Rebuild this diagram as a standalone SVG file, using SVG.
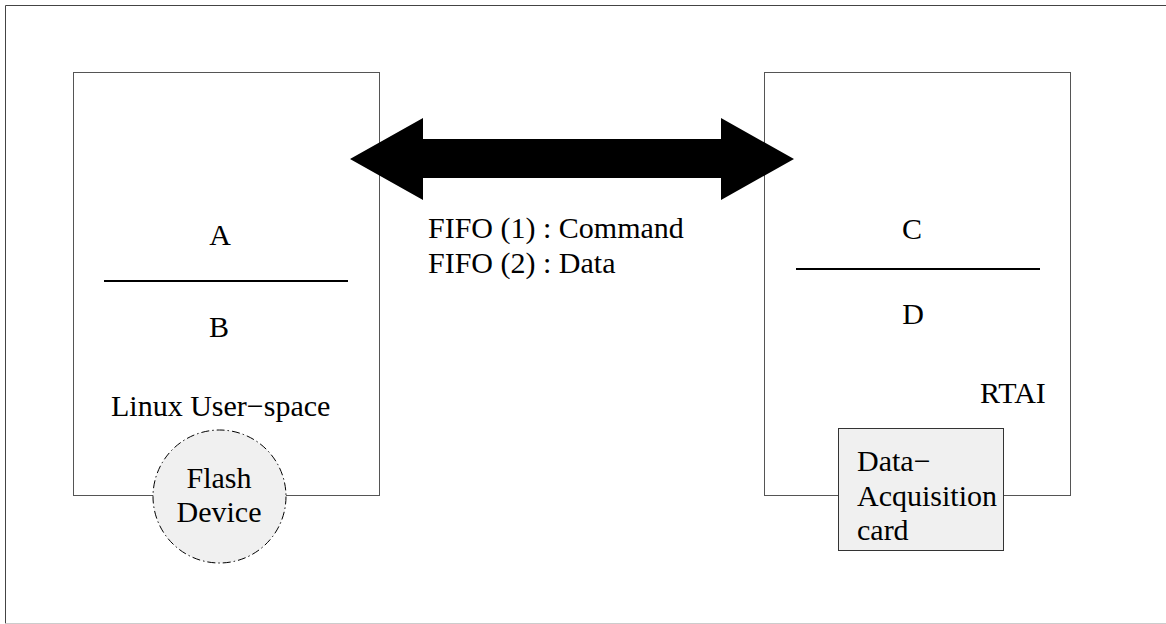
<svg xmlns="http://www.w3.org/2000/svg" width="1166" height="624" viewBox="0 0 1166 624">
<style>
.box{fill:#fff;stroke:#555;stroke-width:1}
.div{stroke:#000;stroke-width:2}
text{font-family:"Liberation Serif","Times New Roman",serif;font-size:30px;fill:#000}
.c{text-anchor:middle}
</style>
<rect width="1166" height="624" fill="#fff"/>
<g id="frame">
<path d="M5.5,623.5 V5.5 H1166" fill="none" stroke="#444" stroke-width="1"/>
<line x1="5.5" y1="623.5" x2="1166" y2="623.5" stroke="#ccc" stroke-width="1"/>
</g>
<g id="linux">
<rect class="box" x="73.5" y="72.5" width="306" height="423"/>
<text class="c" x="220" y="245">A</text>
<line class="div" x1="104" y1="281" x2="348" y2="281"/>
<text class="c" x="219" y="337">B</text>
<text x="111" y="416">Linux User−space</text>
</g>
<g id="flash">
<circle cx="219.5" cy="496.5" r="66.5" fill="#f0f0f0" stroke="#000" stroke-width="1" stroke-dasharray="8,3,1.5,3"/>
<text class="c" x="219" y="488">Flash</text>
<text class="c" x="219" y="522">Device</text>
</g>
<g id="rtai">
<rect class="box" x="764.5" y="72.5" width="306" height="423"/>
<text class="c" x="912" y="239">C</text>
<line class="div" x1="796" y1="269" x2="1040" y2="269"/>
<text class="c" x="913" y="324">D</text>
<text x="980" y="403">RTAI</text>
</g>
<g id="daq">
<rect x="838.5" y="428.5" width="165" height="122" fill="#f0f0f0" stroke="#333" stroke-width="1"/>
<text x="857" y="471">Data−</text>
<text x="857" y="506">Acquisition</text>
<text x="857" y="540">card</text>
</g>
<g id="connectors">
<polygon points="350,159 423,118 423,139 721,139 721,118 794,159 721,200 721,178 423,178 423,200" fill="#000"/>
</g>
<g id="label">
<text x="428" y="238">FIFO (1) : Command</text>
<text x="428" y="273">FIFO (2) : Data</text>
</g>
</svg>
